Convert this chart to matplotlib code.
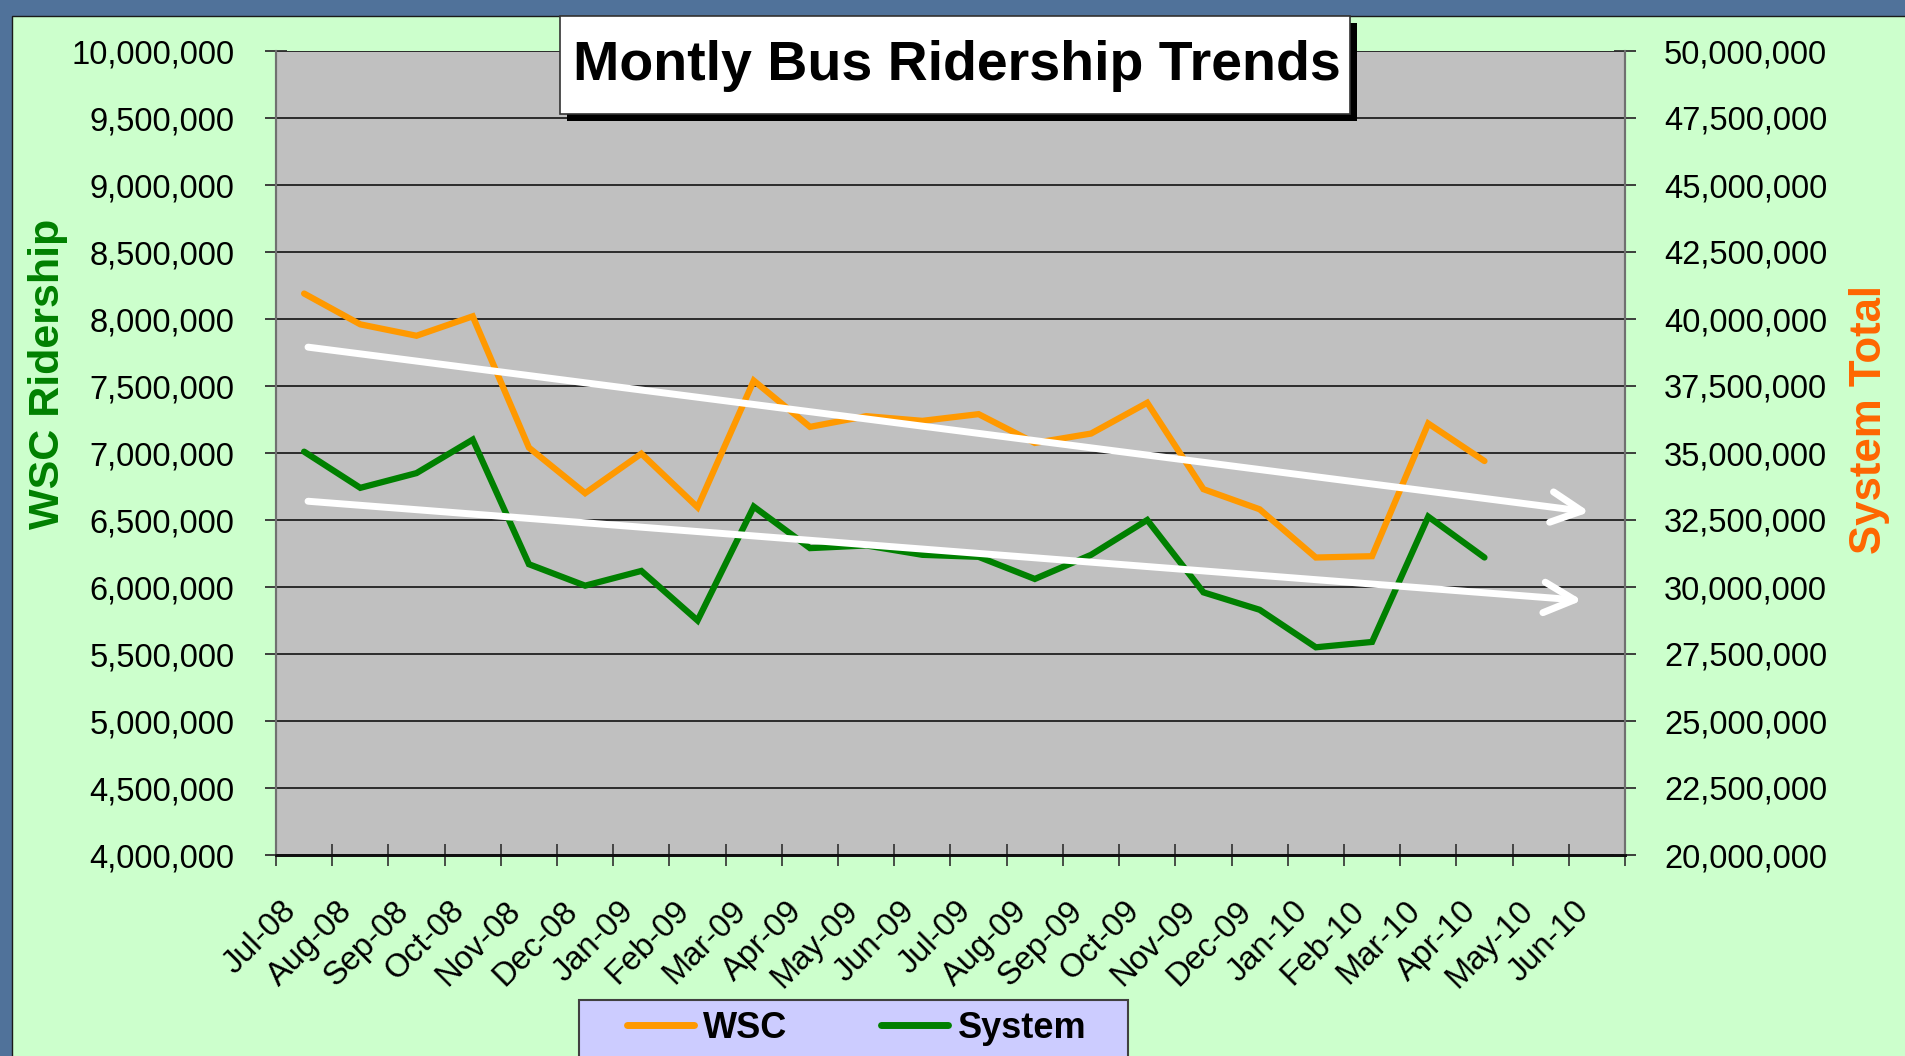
import matplotlib
matplotlib.use("Agg")
import matplotlib.pyplot as plt
import matplotlib.transforms as mtransforms
import numpy as np
from matplotlib.lines import Line2D
from matplotlib.patches import Rectangle
from matplotlib.ticker import FuncFormatter, MultipleLocator

plt.rcParams["font.family"] = ["Liberation Sans", "DejaVu Sans"]

months = ["Jul-08", "Aug-08", "Sep-08", "Oct-08", "Nov-08", "Dec-08",
          "Jan-09", "Feb-09", "Mar-09", "Apr-09", "May-09", "Jun-09",
          "Jul-09", "Aug-09", "Sep-09", "Oct-09", "Nov-09", "Dec-09",
          "Jan-10", "Feb-10", "Mar-10", "Apr-10", "May-10", "Jun-10"]

# WSC ridership (left axis)
wsc = [8190000, 7960000, 7875000, 8020000, 7040000, 6700000, 6995000,
       6595000, 7540000, 7195000, 7275000, 7240000, 7290000, 7075000,
       7145000, 7375000, 6730000, 6580000, 6220000, 6230000, 7220000,
       6940000]

# System total (right axis)
system = [35050000, 33700000, 34250000, 35500000, 30850000, 30050000,
          30600000, 28750000, 33000000, 31450000, 31550000, 31200000,
          31125000, 30300000, 31200000, 32500000, 29800000, 29150000,
          27750000, 27950000, 32625000, 31100000]

# hand-drawn trend arrows (month index, left-axis value)
upper_trend_x = [0.07, 22.87]
upper_trend_y = [7790000, 6560000]
lower_trend_x = [0.07, 22.74]
lower_trend_y = [6640000, 5900000]

W, H = 1906, 1056
fig = plt.figure(figsize=(W / 100, H / 100), dpi=100)
fig.patch.set_facecolor("#50729A")
fig.add_artist(Rectangle((12 / W, -0.02), 1.0, (H - 16) / H + 0.02,
                         transform=fig.transFigure, facecolor="#CCFFCC",
                         edgecolor="#1a1a1a", lw=1, zorder=-1))

ax = fig.add_axes([276 / W, (H - 855) / H, (1625 - 276) / W, (855 - 51) / H])
ax.set_facecolor("#C0C0C0")
ax2 = ax.twinx()

x = np.arange(len(wsc))
ax.plot(x, wsc, color="#FF9900", lw=4.5, solid_joinstyle="miter",
        solid_capstyle="round")
ax2.plot(x, system, color="#008000", lw=4.5, solid_joinstyle="miter",
         solid_capstyle="round")

ax.set_xlim(-0.5, len(months) - 0.5)
ax.set_ylim(4000000, 10000000)
ax2.set_ylim(20000000, 50000000)
ax.yaxis.set_major_locator(MultipleLocator(500000))
ax2.yaxis.set_major_locator(MultipleLocator(2500000))
fmt = FuncFormatter(lambda v, p: f"{v:,.0f}")
ax.yaxis.set_major_formatter(fmt)
ax2.yaxis.set_major_formatter(fmt)

ax.grid(axis="y", color="#202020", lw=1.3)
ax.set_axisbelow(True)

ax.set_xticks(np.arange(len(months)))
ax.set_xticklabels(months)
ax.set_xticks(np.arange(-0.5, len(months)), minor=True)
ax.tick_params(axis="x", which="major", length=0, pad=29, labelsize=23.5)
ax.tick_params(axis="x", which="minor", direction="inout", length=16,
               width=1.2, color="#303030")
shift = mtransforms.ScaledTranslation(-17 / 72, 0, fig.dpi_scale_trans)
for lab in ax.get_xticklabels():
    lab.set_rotation(45)
    lab.set_ha("right")
    lab.set_va("top")
    lab.set_rotation_mode("anchor")
    lab.set_transform(lab.get_transform() + shift)

ax.tick_params(axis="y", direction="inout", length=16, width=1.3, pad=22,
               labelsize=23.5, color="#303030")
ax2.tick_params(axis="y", direction="inout", length=16, width=1.3, pad=20,
                labelsize=23.5, color="#303030")

for a in (ax, ax2):
    a.spines["top"].set_visible(False)
    a.spines["left"].set_color("#707070")
    a.spines["right"].set_color("#707070")
    a.spines["left"].set_linewidth(1.5)
    a.spines["right"].set_linewidth(1.5)
    a.spines["bottom"].set_color("#101010")
    a.spines["bottom"].set_linewidth(2)

arrow_kw = dict(arrowstyle="->,head_length=1.1,head_width=0.55", color="white",
                lw=5, shrinkA=0, shrinkB=0, mutation_scale=20,
                capstyle="round")
ax2.annotate("", xy=(upper_trend_x[1], upper_trend_y[1]),
             xytext=(upper_trend_x[0], upper_trend_y[0]),
             xycoords=ax.transData, textcoords=ax.transData,
             arrowprops=arrow_kw)
ax2.annotate("", xy=(lower_trend_x[1], lower_trend_y[1]),
             xytext=(lower_trend_x[0], lower_trend_y[0]),
             xycoords=ax.transData, textcoords=ax.transData,
             arrowprops=arrow_kw)

# axis titles
fig.text(48 / W, 1 - 374 / H, "WSC Ridership", rotation=90, color="#008000",
         fontsize=31, weight="bold", ha="center", va="center")
fig.text(1870 / W, 1 - 420 / H, "System Total", rotation=90, color="#FF6600",
         fontsize=31.5, weight="bold", ha="center", va="center")

# title box with shadow
fig.add_artist(Rectangle((567 / W, 1 - 121 / H), 790 / W, 98 / H,
                         transform=fig.transFigure, facecolor="black",
                         edgecolor="none", zorder=5))
fig.add_artist(Rectangle((560 / W, 1 - 114 / H), 790 / W, 98 / H,
                         transform=fig.transFigure, facecolor="white",
                         edgecolor="#333333", lw=1.2, zorder=6))
fig.text(957 / W, 1 - 80 / H, "Montly Bus Ridership Trends", fontsize=40,
         weight="bold", ha="center", va="baseline", zorder=7)

# legend box
fig.add_artist(Rectangle((579 / W, -0.02), (1128 - 579) / W, (H - 1000) / H + 0.02,
                         transform=fig.transFigure, facecolor="#CCCCFF",
                         edgecolor="#404040", lw=1.5, zorder=2))
handles = [Line2D([], [], color="#FF9900", lw=5, solid_capstyle="round"),
           Line2D([], [], color="#008000", lw=5, solid_capstyle="round")]
fig.legend(handles, ["WSC", "System"], loc="center left",
           bbox_to_anchor=(627 / W, 1 - 1028 / H), frameon=False, ncol=2,
           handlelength=1.86, handletextpad=0.25, columnspacing=2.6,
           borderpad=0, borderaxespad=0,
           prop=dict(family="Liberation Sans", weight="bold", size=26))

fig.savefig("out.png", dpi=100, facecolor=fig.get_facecolor())
